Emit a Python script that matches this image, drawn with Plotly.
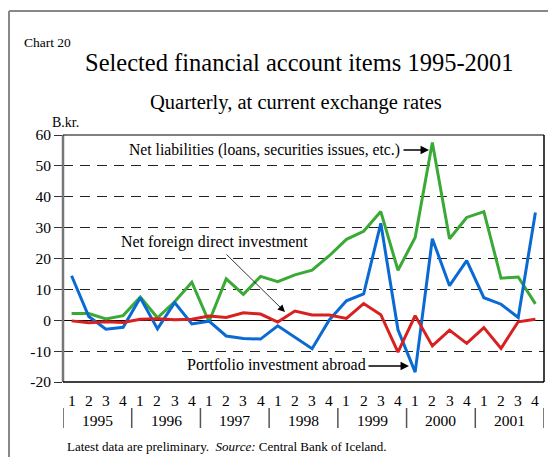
import plotly.graph_objects as go

# ---------------- data ----------------
quarter_labels = ["1", "2", "3", "4"] * 7
years = ["1995", "1996", "1997", "1998", "1999", "2000", "2001"]
net_liabilities = [2.2, 2.2, 0.4, 1.5, 7.5, 0.8, 6.0, 12.3, -0.5, 13.4, 8.4, 14.2, 12.5, 14.7,
                   16.2, 20.9, 26.2, 28.8, 35.2, 16.2, 26.8, 57.6, 26.4, 33.3, 35.2, 13.6, 14.0, 5.3]
net_fdi = [-0.2, -0.8, -0.5, -0.7, 0.3, 0.5, 0.2, 0.3, 1.4, 0.9, 2.4, 2.0, -0.6, 3.0,
           1.7, 1.7, 0.6, 5.4, 1.8, -10.3, 1.5, -8.3, -3.2, -7.5, -2.4, -9.1, -0.5, 0.3]
portfolio = [14.4, 1.2, -2.9, -2.3, 7.3, -2.8, 5.7, -1.2, -0.3, -5.1, -5.9, -6.1, -1.8, -5.5,
             -9.2, 0.1, 6.3, 8.5, 31.4, -3.1, -16.8, 26.4, 11.2, 19.3, 7.3, 5.2, 0.9, 34.9]
y_ticks = [-20, -10, 0, 10, 20, 30, 40, 50, 60]
y_tick_text = ["-20", "-10", "0", "10", "20", "30", "40", "50", "60"]

# ---------------- layout geometry (page pixels) ----------------
W, H = 556, 457
OFF = 8                      # page body margin offset
L, R, T, B = 63, 12, 135, 75  # plot area in page pixels: x 63..544, y 135..382
PW, PH = W - L - R, H - T - B
FONT = "Liberation Serif"


def px(xp):
    return (xp - L) / PW


def py(yp):
    return (H - B - yp) / PH


xs = list(range(len(quarter_labels)))

fig = go.Figure()
fig.add_trace(go.Scatter(x=xs, y=net_liabilities, mode="lines",
                         line=dict(color="#3aa935", width=3), name="Net liabilities"))
fig.add_trace(go.Scatter(x=xs, y=portfolio, mode="lines",
                         line=dict(color="#0a6ad4", width=3), name="Portfolio investment abroad"))
fig.add_trace(go.Scatter(x=xs, y=net_fdi, mode="lines",
                         line=dict(color="#d92020", width=3), name="Net foreign direct investment"))

fig.update_layout(
    width=W - OFF, height=H - OFF,
    margin=dict(l=L - OFF, r=R, t=T - OFF, b=B),
    paper_bgcolor="white", plot_bgcolor="white",
    showlegend=False,
    font=dict(family=FONT, color="black"),
    xaxis=dict(range=[-0.5, len(xs) - 0.5], showgrid=False, zeroline=False,
               showticklabels=False, ticks="", showline=False, fixedrange=True),
    yaxis=dict(range=[-20, 60], tickvals=y_ticks, ticktext=y_tick_text,
               tickfont=dict(family=FONT, size=15.5, color="black"),
               ticks="outside", ticklen=8, tickcolor="#333", tickwidth=1,
               showgrid=True, gridcolor="#222", gridwidth=1, griddash="10px,7px",
               zeroline=True, zerolinecolor="black", zerolinewidth=1,
               showline=False, fixedrange=True),
)

shapes = []
# plot box: left gray, others black
shapes.append(dict(type="line", xref="paper", yref="paper", x0=0, x1=0, y0=0, y1=1,
                   line=dict(color="#777", width=2.5)))
shapes.append(dict(type="line", xref="paper", yref="paper", x0=0, x1=1, y0=1, y1=1,
                   line=dict(color="black", width=1)))
shapes.append(dict(type="line", xref="paper", yref="paper", x0=1, x1=1, y0=0, y1=1,
                   line=dict(color="black", width=1.5)))
shapes.append(dict(type="line", xref="paper", yref="paper", x0=0, x1=1, y0=0, y1=0,
                   line=dict(color="black", width=1.5)))
# year separators
for k in range(len(years) + 1):
    shapes.append(dict(type="line", xref="x", yref="paper", x0=k * 4 - 0.5, x1=k * 4 - 0.5,
                       y0=py(408), y1=py(428), line=dict(color="#555", width=1.5)))
# outer frame (left + top)
shapes.append(dict(type="line", xref="paper", yref="paper", x0=px(9), x1=px(9),
                   y0=py(11), y1=py(H + 5), line=dict(color="#888", width=2)))
shapes.append(dict(type="line", xref="paper", yref="paper", x0=px(9), x1=px(W + 5),
                   y0=py(11), y1=py(11), line=dict(color="#888", width=2)))
fig.update_layout(shapes=shapes)

ann = []
# quarter labels
for i, q in enumerate(quarter_labels):
    ann.append(dict(x=i, y=py(400), xref="x", yref="paper", text=q, showarrow=False,
                    font=dict(size=15.5), xanchor="center", yanchor="middle"))
# year labels
for k, yr in enumerate(years):
    ann.append(dict(x=k * 4 + 1.5, y=py(420), xref="x", yref="paper", text=yr, showarrow=False,
                    font=dict(size=15.5), xanchor="center", yanchor="middle"))
# titles
ann.append(dict(x=px(22), y=py(42), xref="paper", yref="paper", text="Chart 20", showarrow=False,
                font=dict(size=13.5), xanchor="left", yanchor="middle"))
ann.append(dict(x=px(299), y=py(63), xref="paper", yref="paper",
                text="Selected financial account items 1995-2001", showarrow=False,
                font=dict(size=24.5), xanchor="center", yanchor="middle"))
ann.append(dict(x=px(296), y=py(102), xref="paper", yref="paper",
                text="Quarterly, at current exchange rates", showarrow=False,
                font=dict(size=20.5), xanchor="center", yanchor="middle"))
ann.append(dict(x=px(50), y=py(122), xref="paper", yref="paper", text="B.kr.", showarrow=False,
                font=dict(size=14), xanchor="left", yanchor="middle"))
ann.append(dict(x=px(65), y=py(446), xref="paper", yref="paper",
                text="Latest data are preliminary.  <i>Source:</i> Central Bank of Iceland.",
                showarrow=False, font=dict(size=13), xanchor="left", yanchor="middle"))

# series labels
ann.append(dict(x=px(264), y=py(150), xref="paper", yref="paper",
                text="Net liabilities (loans, securities issues, etc.)", showarrow=False,
                font=dict(size=15.7), xanchor="center", yanchor="middle"))
ann.append(dict(x=px(429), y=py(150), xref="paper", yref="paper", text="", showarrow=True,
                ax=-27, ay=0, arrowhead=2, arrowsize=1.3, arrowwidth=1.3, arrowcolor="black"))
ann.append(dict(x=px(214), y=py(242), xref="paper", yref="paper",
                text="Net foreign direct investment", showarrow=False,
                font=dict(size=15.9), xanchor="center", yanchor="middle"))
ann.append(dict(x=px(285), y=py(312), xref="paper", yref="paper", text="", showarrow=True,
                ax=-60, ay=-59, arrowhead=2, arrowsize=1.8, arrowwidth=0.8, arrowcolor="black"))
ann.append(dict(x=px(276), y=py(364), xref="paper", yref="paper",
                text="Portfolio investment abroad", showarrow=False,
                font=dict(size=16), xanchor="center", yanchor="middle"))
ann.append(dict(x=px(409), y=py(366), xref="paper", yref="paper", text="", showarrow=True,
                ax=-42, ay=0, arrowhead=2, arrowsize=1.3, arrowwidth=1.3, arrowcolor="black"))
fig.update_layout(annotations=ann)

fig.write_html("out.html")
